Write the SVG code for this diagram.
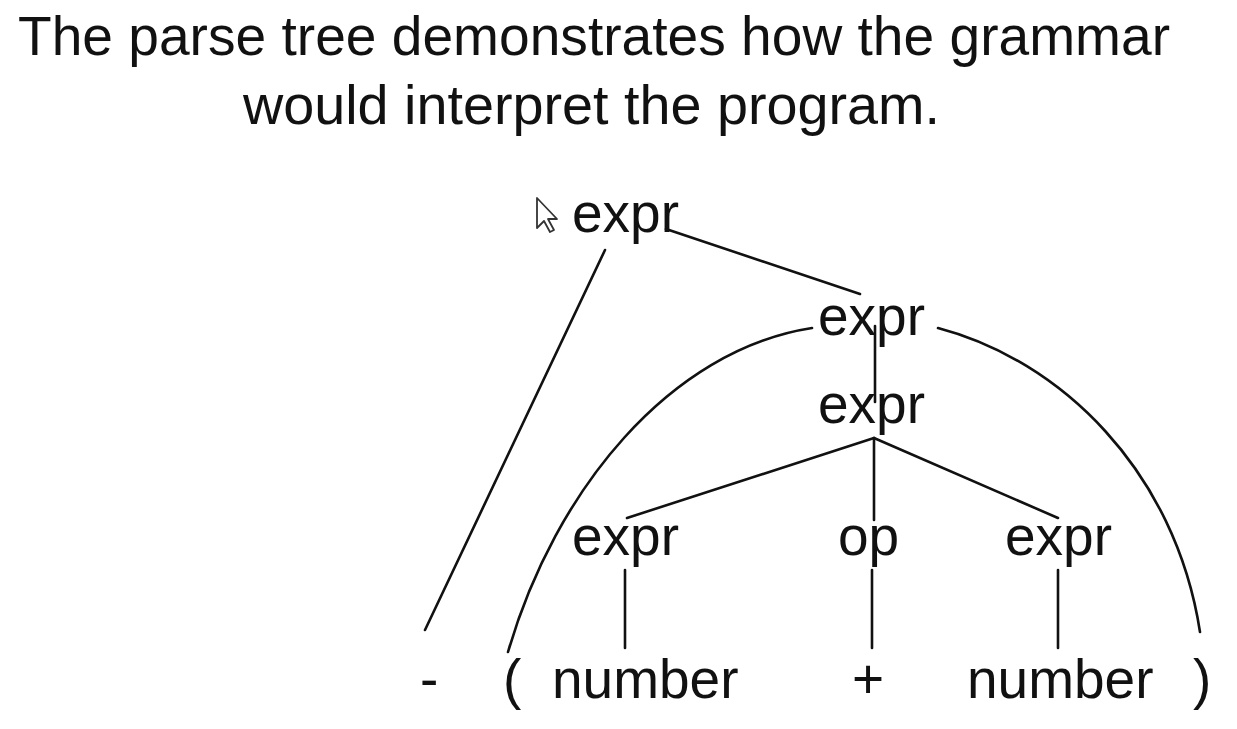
<svg xmlns="http://www.w3.org/2000/svg" width="1237" height="729" viewBox="0 0 1237 729">
<style>
text{font-family:"Liberation Sans",Arial,Helvetica,sans-serif;font-size:55px;fill:#111}
.c{fill:none;stroke:#111;stroke-width:2.6;stroke-linecap:round}
</style>
<rect width="1237" height="729" fill="#ffffff"/>
<g id="title">
<text x="18" y="55" textLength="1152" lengthAdjust="spacingAndGlyphs">The parse tree demonstrates how the grammar</text>
<text x="243" y="124" textLength="697" lengthAdjust="spacingAndGlyphs">would interpret the program.</text>
</g>
<g id="connectors">
<line class="c" x1="605" y1="250" x2="425" y2="630"/>
<line class="c" x1="666" y1="229" x2="860" y2="294"/>
<path class="c" d="M508,652 C555,490 670,350 812,328"/>
<path class="c" d="M938,328 C1060,360 1175,470 1200,632"/>
<line class="c" x1="875" y1="326" x2="875" y2="402"/>
<line class="c" x1="874" y1="438" x2="627" y2="518"/>
<line class="c" x1="874" y1="438" x2="874" y2="520"/>
<line class="c" x1="874" y1="438" x2="1058" y2="518"/>
<line class="c" x1="625" y1="570" x2="625" y2="648"/>
<line class="c" x1="872" y1="570" x2="872" y2="648"/>
<line class="c" x1="1058" y1="570" x2="1058" y2="648"/>
</g>
<g id="cursor">
<polygon points="537,198 537,228 544,221 550,232 554,230 548,219 557,219" fill="#fff" stroke="#333" stroke-width="1.8" stroke-linejoin="round"/>
</g>
<g id="n-expr-root"><text x="572" y="232">expr</text></g>
<g id="n-expr-2"><text x="818" y="335">expr</text></g>
<g id="n-expr-3"><text x="818" y="423">expr</text></g>
<g id="n-expr-left"><text x="572" y="555">expr</text></g>
<g id="n-op"><text x="838" y="555">op</text></g>
<g id="n-expr-right"><text x="1005" y="555">expr</text></g>
<g id="t-minus"><text x="420" y="698">-</text></g>
<g id="t-lparen"><text x="503" y="698">(</text></g>
<g id="t-number1"><text x="552" y="698">number</text></g>
<g id="t-plus"><text x="852" y="698">+</text></g>
<g id="t-number2"><text x="967" y="698">number</text></g>
<g id="t-rparen"><text x="1193" y="698">)</text></g>
</svg>
